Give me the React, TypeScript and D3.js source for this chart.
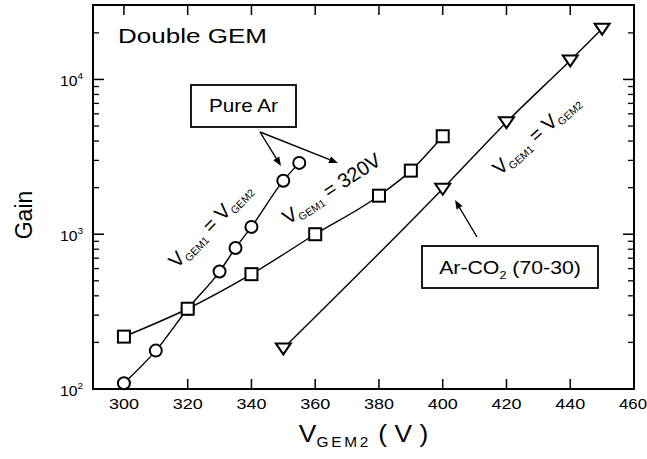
import React from "react";
import * as d3 from "d3";

const W = 647;
const H = 459;
const FONT = "'Liberation Sans', Arial, Helvetica, sans-serif";

// ---- data ----
const xTickValues = [300, 320, 340, 360, 380, 400, 420, 440, 460];
const yMajorValues = [100, 1000, 10000];
const yMajorExponents = ["2", "3", "4"];

const arEqualVolt = [300, 310, 320, 330, 335, 340, 350, 355];
const arEqualGain = [109, 177, 330, 574, 815, 1115, 2218, 2890];

const ar320Volt = [300, 320, 340, 360, 380, 390, 400];
const ar320Gain = [218, 330, 552, 1000, 1774, 2576, 4295];

const co2Volt = [350, 400, 420, 440, 450];
const co2Gain = [183, 1968, 5295, 13270, 21280];

// ---- layout ----
const L = 93, R = 634, T = 5, B = 389;
const x = d3.scaleLinear().domain([290.3, 460]).range([L, R]);
const y = d3.scaleLog().domain([100, 30270]).range([B, T]);

const line = d3
  .line<[number, number]>()
  .x((d) => x(d[0]))
  .y((d) => y(d[1]))
  .curve(d3.curveMonotoneX);

const zip = (a: number[], b: number[]) => a.map((v, i) => [v, b[i]] as [number, number]);

function SText({ x, y, sx = 1, anchor = "start", size, children }: any) {
  return (
    <g transform={`translate(${x},${y}) scale(${sx},1)`}>
      <text x={0} y={0} textAnchor={anchor} fontSize={size} fontFamily={FONT} fill="#000" style={{ whiteSpace: "pre" }}>
        {children}
      </text>
    </g>
  );
}

function Arrow({ x1, y1, x2, y2 }: any) {
  const a = Math.atan2(y2 - y1, x2 - x1);
  const len = 9, hw = 3.5;
  const bx = x2 - len * Math.cos(a);
  const by = y2 - len * Math.sin(a);
  const pts = [
    [x2, y2],
    [bx + hw * Math.sin(a), by - hw * Math.cos(a)],
    [bx - hw * Math.sin(a), by + hw * Math.cos(a)],
  ];
  return (
    <g>
      <line x1={x1} y1={y1} x2={bx} y2={by} stroke="#000" strokeWidth={1.4} />
      <polygon points={pts.map((p) => p.join(",")).join(" ")} fill="#000" />
    </g>
  );
}

function RotLabel({ x, y, angle, tail, tailSub }: any) {
  return (
    <g transform={`translate(${x},${y}) rotate(${angle})`}>
      <text x={0} y={0} fontFamily={FONT} fill="#000" style={{ whiteSpace: "pre" }}>
        <tspan fontSize={20}>V</tspan>
        <tspan fontSize={10.5} dy={4}>GEM1</tspan>
        <tspan fontSize={20} dy={-4}>{" = " + tail}</tspan>
        {tailSub ? (
          <tspan fontSize={10.5} dy={4}>
            {tailSub}
          </tspan>
        ) : null}
      </text>
    </g>
  );
}

export default function App() {
  const minor: number[] = [];
  [100, 1000, 10000].forEach((d) => {
    for (let k = 2; k <= 9; k++) {
      const v = d * k;
      if (y(v) > T + 8) minor.push(v);
    }
  });

  const tri = "M-7.5,-5L7.5,-5L0,6Z";

  return (
    <svg width={W} height={H} style={{ position: "absolute", left: 0, top: 0, background: "#fff" }}>
      <rect x={0} y={0} width={W} height={H} fill="#fff" />

      {/* ticks */}
      {xTickValues
        .filter((v) => v < 460)
        .map((v) => (
          <g key={"xt" + v}>
            <line x1={x(v)} x2={x(v)} y1={B} y2={B - 10} stroke="#000" strokeWidth={1.5} />
            <line x1={x(v)} x2={x(v)} y1={T} y2={T + 10} stroke="#000" strokeWidth={1.5} />
          </g>
        ))}
      {yMajorValues.map((v) => (
        <g key={"ym" + v}>
          <line x1={L} x2={L + 11} y1={y(v)} y2={y(v)} stroke="#000" strokeWidth={1.5} />
          <line x1={R} x2={R - 11} y1={y(v)} y2={y(v)} stroke="#000" strokeWidth={1.5} />
        </g>
      ))}
      {minor.map((v) => (
        <g key={"yn" + v}>
          <line x1={L} x2={L + 6} y1={y(v)} y2={y(v)} stroke="#000" strokeWidth={1.3} />
          <line x1={R} x2={R - 6} y1={y(v)} y2={y(v)} stroke="#000" strokeWidth={1.3} />
        </g>
      ))}

      {/* frame */}
      <rect x={L} y={T} width={R - L} height={B - T} fill="none" stroke="#000" strokeWidth={2} />

      {/* tick labels */}
      {xTickValues.map((v) => (
        <SText key={"xl" + v} x={v === 460 ? x(v) - 1 : x(v)} y={409} sx={v === 460 ? 1.12 : 1.2} anchor="middle" size={15}>
          {String(v)}
        </SText>
      ))}
      {yMajorValues.map((v, i) => (
        <SText key={"yl" + v} x={83} y={y(v) + 7} sx={1.05} anchor="end" size={15}>
          <tspan>10</tspan>
          <tspan fontSize={9.5} dy={-7}>
            {yMajorExponents[i]}
          </tspan>
        </SText>
      ))}

      {/* axis titles */}
      <g transform={`translate(32,215) rotate(-90)`}>
        <text x={0} y={0} textAnchor="middle" fontSize={23} fontFamily={FONT}>
          Gain
        </text>
      </g>
      <SText x={(L + R) / 2} y={442} sx={1.1} anchor="middle" size={24}>
        <tspan>V</tspan>
        <tspan fontSize={14} dy={5} letterSpacing={2.5}>
          GEM2
        </tspan>
        <tspan dy={-5}>{" ( V )"}</tspan>
      </SText>

      {/* lines */}
      <path d={line(zip(arEqualVolt, arEqualGain)) || ""} fill="none" stroke="#000" strokeWidth={1.4} />
      <path d={line(zip(ar320Volt, ar320Gain)) || ""} fill="none" stroke="#000" strokeWidth={1.4} />
      <path d={line(zip(co2Volt, co2Gain)) || ""} fill="none" stroke="#000" strokeWidth={1.4} />

      {/* markers */}
      {arEqualVolt.map((v, i) => (
        <circle key={"c" + v} cx={x(v)} cy={y(arEqualGain[i])} r={6} fill="#fff" stroke="#000" strokeWidth={2} />
      ))}
      {ar320Volt.map((v, i) => (
        <rect key={"s" + v} x={x(v) - 6} y={y(ar320Gain[i]) - 6} width={12} height={12} fill="#fff" stroke="#000" strokeWidth={2} />
      ))}
      {co2Volt.map((v, i) => (
        <path key={"t" + v} d={tri} transform={`translate(${x(v)},${y(co2Gain[i])})`} fill="#fff" stroke="#000" strokeWidth={2} />
      ))}

      {/* annotations */}
      <SText x={118} y={43} sx={1.24} size={21}>
        Double GEM
      </SText>

      <rect x={191} y={85} width={105} height={42} fill="#fff" stroke="#000" strokeWidth={1.8} />
      <SText x={243.5} y={112} sx={1.15} anchor="middle" size={18}>
        Pure Ar
      </SText>
      <Arrow x1={260} y1={132} x2={281} y2={166} />
      <Arrow x1={260} y1={132} x2={338} y2={163} />

      <rect x={422} y={246} width={176} height={42} fill="#fff" stroke="#000" strokeWidth={1.8} />
      <SText x={510} y={274} sx={1.15} anchor="middle" size={18.5}>
        <tspan>Ar-CO</tspan>
        <tspan fontSize={11} dy={5}>
          2
        </tspan>
        <tspan dy={-5}>{" (70-30)"}</tspan>
      </SText>
      <Arrow x1={477} y1={237} x2={455} y2={200} />

      <RotLabel x={177} y={269} angle={-46} tail="V" tailSub="GEM2" />
      <RotLabel x={288} y={225} angle={-33} tail="320V" />
      <RotLabel x={500} y={176} angle={-42} tail="V" tailSub="GEM2" />
    </svg>
  );
}
